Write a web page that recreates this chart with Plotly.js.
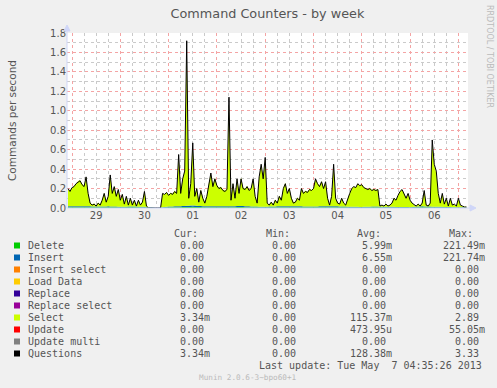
<!DOCTYPE html>
<html><head><meta charset="utf-8">
<script src="https://cdn.plot.ly/plotly-3.0.1.min.js"></script>
<style>html,body{margin:0;padding:0;background:#F0F0F0}#chart{width:497px;height:388px}</style>
</head><body><div id="chart"></div>
<script>
// ---- data ----
const seriesStart = '2013-04-28 22:00';   // hourly samples
const questions = [
0.20,0.17,0.21,0.22,0.25,0.27,0.28,0.24,0.22,0.32,
0.15,0.05,0.03,0.04,0.02,0.05,0.03,0.08,0.15,0.06,
0.12,0.34,0.15,0.22,0.12,0.19,0.08,0.14,0.04,0.12,
0.03,0.10,0.03,0.08,0.02,0.08,0.03,0.06,0.17,0.02,
0,0,0,0,0,0,0,0.15,0.14,0.16,
0.13,0.15,0.14,0.17,0.15,0.55,0.15,0.30,0.38,1.72,
0.10,0.25,0.67,0.12,0.20,0.06,0.18,0.10,0.05,0.12,
0.25,0.36,0.22,0.30,0.23,0.20,0.21,0.18,0.17,0.19,
1.14,0.08,0.25,0.10,0.30,0.15,0.30,0.20,0.19,0.22,
0.18,0.20,0.30,0.12,0.05,0.32,0.45,0.30,0.52,0.05,
0.03,0.06,0.03,0.08,0.05,0.12,0.08,0.20,0.25,0.15,
0.20,0.10,0.05,0.06,0.10,0.08,0.20,0.15,0.17,0.16,
0.19,0.18,0.20,0.30,0.25,0.22,0.27,0.20,0.27,0.10,
0.03,0.12,0.45,0.10,0.05,0.04,0.10,0.05,0.03,0.10,
0.15,0.20,0.22,0.21,0.25,0.23,0.24,0.21,0.20,0.19,
0.20,0.18,0.19,0.18,0.19,0.02,0.03,0.02,0.04,0.02,
0.03,0.05,0.10,0.08,0.13,0.17,0.19,0.15,0.10,0.15,
0.08,0.05,0.03,0.02,0.04,0.02,0.05,0.18,0.03,0.02,
0.05,0.70,0.45,0.38,0.15,0.05,0.15,0.04,0.10,0.02,
0.10,0.03,0.04,0.02,0.10,0.03,0.02,0.01,0.01
];
const selectVals = [
0.18,0.16,0.19,0.21,0.23,0.26,0.27,0.23,0.21,0.30,
0.14,0.04,0.02,0.03,0.01,0.04,0.02,0.07,0.14,0.05,
0.11,0.32,0.14,0.21,0.11,0.18,0.07,0.13,0.03,0.11,
0.02,0.09,0.02,0.07,0.01,0.07,0.02,0.05,0.16,0.01,
0,0,0,0,0,0,0,0.14,0.13,0.15,
0.12,0.14,0.13,0.16,0.14,0.50,0.14,0.28,0.36,1.60,
0.09,0.23,0.62,0.11,0.19,0.05,0.17,0.09,0.04,0.11,
0.24,0.34,0.21,0.29,0.22,0.19,0.20,0.17,0.16,0.18,
1.05,0.07,0.24,0.09,0.28,0.14,0.29,0.19,0.18,0.21,
0.17,0.19,0.28,0.11,0.04,0.30,0.43,0.29,0.49,0.04,
0.02,0.05,0.02,0.07,0.04,0.11,0.07,0.19,0.24,0.14,
0.19,0.09,0.04,0.05,0.09,0.07,0.19,0.14,0.16,0.15,
0.18,0.17,0.19,0.28,0.24,0.21,0.26,0.19,0.26,0.09,
0.02,0.11,0.42,0.09,0.04,0.03,0.09,0.04,0.02,0.09,
0.14,0.19,0.21,0.20,0.24,0.22,0.23,0.20,0.19,0.18,
0.19,0.17,0.18,0.17,0.18,0.01,0.02,0.01,0.03,0.01,
0.02,0.04,0.09,0.07,0.12,0.16,0.18,0.14,0.09,0.14,
0.07,0.04,0.02,0.01,0.03,0.01,0.04,0.16,0.02,0.01,
0.04,0.64,0.42,0.35,0.14,0.04,0.14,0.03,0.09,0.01,
0.09,0.02,0.03,0.01,0.09,0.02,0.01,0.005,0.005
];
const smallStart = '2013-04-29 00:00';   // 6-hourly samples
const deleteVals = [
0.008,0.009,0.007,0.008, 0.006,0.007,0.006,0,
0.007,0.009,0.012,0.008, 0.009,0.008,0.010,0.007,
0.006,0.008,0.009,0.008, 0.007,0.009,0.008,0.006,
0.005,0.007,0.006,0.005, 0.004,0.008,0.006,0.005, 0.003
];
const insertVals = [
0.009,0.010,0.008,0.009, 0.007,0.008,0.007,0,
0.008,0.010,0.014,0.009, 0.010,0.009,0.011,0.008,
0.007,0.009,0.010,0.009, 0.008,0.010,0.009,0.007,
0.006,0.008,0.007,0.006, 0.005,0.009,0.007,0.006, 0.004
];
const dayLabelsFormat = '%d';
const legendNames = ['Delete','Insert','Insert select','Load Data','Replace','Replace select','Select','Update','Update multi','Questions'];
const legendColors = ['#00CC00','#0066B3','#FF8000','#FFCC00','#330099','#990099','#CCFF00','#FF0000','#808080','#000000'];
const curVals = ['0.00','0.00','0.00','0.00','0.00','0.00','3.34m','0.00','0.00','3.34m'];
const minVals = ['0.00','0.00','0.00','0.00','0.00','0.00','0.00','0.00','0.00','0.00'];
const avgVals = ['5.99m','6.55m','0.00','0.00','0.00','0.00','115.37m','473.95u','0.00','128.38m'];
const maxVals = ['221.49m','221.74m','0.00','0.00','0.00','0.00','2.89','55.05m','0.00','3.33'];
const lastUpdate = 'Last update: Tue May  7 04:35:26 2013';
const watermark = 'Munin 2.0.6-3~bpo60+1';
const sideText = 'RRDTOOL / TOBI OETIKER';

// ---- helpers ----
function timeSeries(start, n, stepHours){
  const base = Date.parse(start.replace(' ','T')+':00Z');
  const out = [];
  for(let i=0;i<n;i++){
    out.push(new Date(base + i*stepHours*3600e3).toISOString().slice(0,16).replace('T',' '));
  }
  return out;
}
const hourly = timeSeries(seriesStart, questions.length, 1);
const sixHourly = timeSeries(smallStart, deleteVals.length, 6);

const W=497, H=388, L=67, R=468, T=33, B=208;
const px = x => (x-L)/(R-L);
const py = y => (B-y)/(B-T);
const NB = '\u00a0';
function fmt(v){
  const m = v.match(/^([\d.]+)([a-zA-Z]?)$/);
  return m[1].padStart(6,NB) + (m[2]||NB);
}

const FONT_MONO = 'DejaVu Sans Mono, monospace';
const FONT_SANS = 'DejaVu Sans, sans-serif';
const TXT = '#555555';

const traces = [
  {x: sixHourly, y: deleteVals, type:'scatter', mode:'none', stackgroup:'s', stackgaps:'interpolate', fillcolor:'#00CC00', name:'Delete', hoverinfo:'skip'},
  {x: sixHourly, y: insertVals, type:'scatter', mode:'none', stackgroup:'s', stackgaps:'interpolate', fillcolor:'#0066B3', name:'Insert', hoverinfo:'skip'},
  {x: hourly, y: selectVals, type:'scatter', mode:'none', stackgroup:'s', stackgaps:'interpolate', fillcolor:'#CCFF00', name:'Select', hoverinfo:'skip'},
  {x: hourly, y: questions, type:'scatter', mode:'lines', line:{color:'#000000', width:1}, name:'Questions', hoverinfo:'skip'}
];

const annotations = [];
const shapes = [];
function addText(text, x, y, opts){
  annotations.push(Object.assign({text:text, x:px(x), y:py(y), xref:'paper', yref:'paper',
    showarrow:false, xanchor:'left', yanchor:'middle',
    font:{family:FONT_MONO, size:10, color:TXT}}, opts||{}));
}
// legend headers
addText('Cur:', 172, 233);
addText('Min:', 264.4, 233);
addText('Avg:', 355.4, 233);
addText('Max:', 446.7, 233);
for(let i=0;i<legendNames.length;i++){
  const y = 245.5 + i*12;
  shapes.push({type:'rect', xref:'paper', yref:'paper', x0:px(14), x1:px(20), y0:py(y-3), y1:py(y+3),
    fillcolor:legendColors[i], line:{width:0}});
  addText(legendNames[i], 25.8, y);
  addText(fmt(curVals[i]), 166, y);
  addText(fmt(minVals[i]), 258, y);
  addText(fmt(avgVals[i]), 347.5, y);
  addText(fmt(maxVals[i]), 441, y);
}
addText(lastUpdate.replace(/ /g,NB), 483.8, 365.5, {xanchor:'right'});
addText(watermark, 248, 377.5, {xanchor:'center', font:{family:FONT_MONO, size:7.7, color:'#BBBBBB'}});
addText(sideText, 490, 57, {xanchor:'center', textangle:90, font:{family:FONT_SANS, size:8, color:'#BBBBBB'}});

// axis lines and arrows
const AX = '#CFD6F8';
shapes.push({type:'line', xref:'paper', yref:'paper', x0:px(67), x1:px(67), y0:py(208), y1:py(29), line:{color:AX, width:1}});
shapes.push({type:'line', xref:'paper', yref:'paper', x0:px(67), x1:px(472), y0:py(208), y1:py(208), line:{color:AX, width:1}});
shapes.push({type:'path', xref:'paper', yref:'paper', fillcolor:AX, line:{color:AX, width:1},
  path:`M ${px(64)},${py(31)} L ${px(70)},${py(31)} L ${px(67)},${py(25)} Z`});
shapes.push({type:'path', xref:'paper', yref:'paper', fillcolor:AX, line:{color:AX, width:1},
  path:`M ${px(470)},${py(205)} L ${px(470)},${py(211)} L ${px(476)},${py(208)} Z`});

const MAJ = '#F4A4A4', MIN = '#CACACA';
const layout = {
  width:W, height:H,
  margin:{l:L, r:W-R, t:T, b:H-B, pad:0},
  paper_bgcolor:'#F0F0F0', plot_bgcolor:'#FFFFFF',
  showlegend:false,
  title:{text:'Command Counters - by week', x:0.5, xref:'paper', xanchor:'center',
    y:1-14/H, yref:'container', yanchor:'middle',
    font:{family:FONT_SANS, size:12.8, color:TXT}},
  xaxis:{type:'date', range:['2013-04-28 21:31','2013-05-07 04:46'],
    tick0:'2013-04-29', dtick:86400000, tickformat:dayLabelsFormat, ticklabelmode:'period',
    showgrid:true, gridcolor:MAJ, griddash:'dot', gridwidth:1,
    minor:{dtick:6*3600000, showgrid:true, gridcolor:MIN, griddash:'dot', gridwidth:1},
    zeroline:false, showline:false, ticks:'', fixedrange:true, layer:'below traces',
    tickfont:{family:FONT_SANS, size:10, color:TXT}},
  yaxis:{range:[0,1.8], dtick:0.2, tick0:0, tickformat:'.1f',
    showgrid:true, gridcolor:MAJ, griddash:'dot', gridwidth:1,
    minor:{dtick:0.1, showgrid:true, gridcolor:MIN, griddash:'dot', gridwidth:1},
    zeroline:false, showline:false, ticks:'', fixedrange:true,
    tickfont:{family:FONT_SANS, size:10, color:TXT},
    title:{text:'Commands per second', standoff:31, font:{family:FONT_SANS, size:10.5, color:TXT}}},
  annotations:annotations,
  shapes:shapes
};
Plotly.newPlot('chart', traces, layout, {displayModeBar:false, staticPlot:true});
</script>
</body></html>
